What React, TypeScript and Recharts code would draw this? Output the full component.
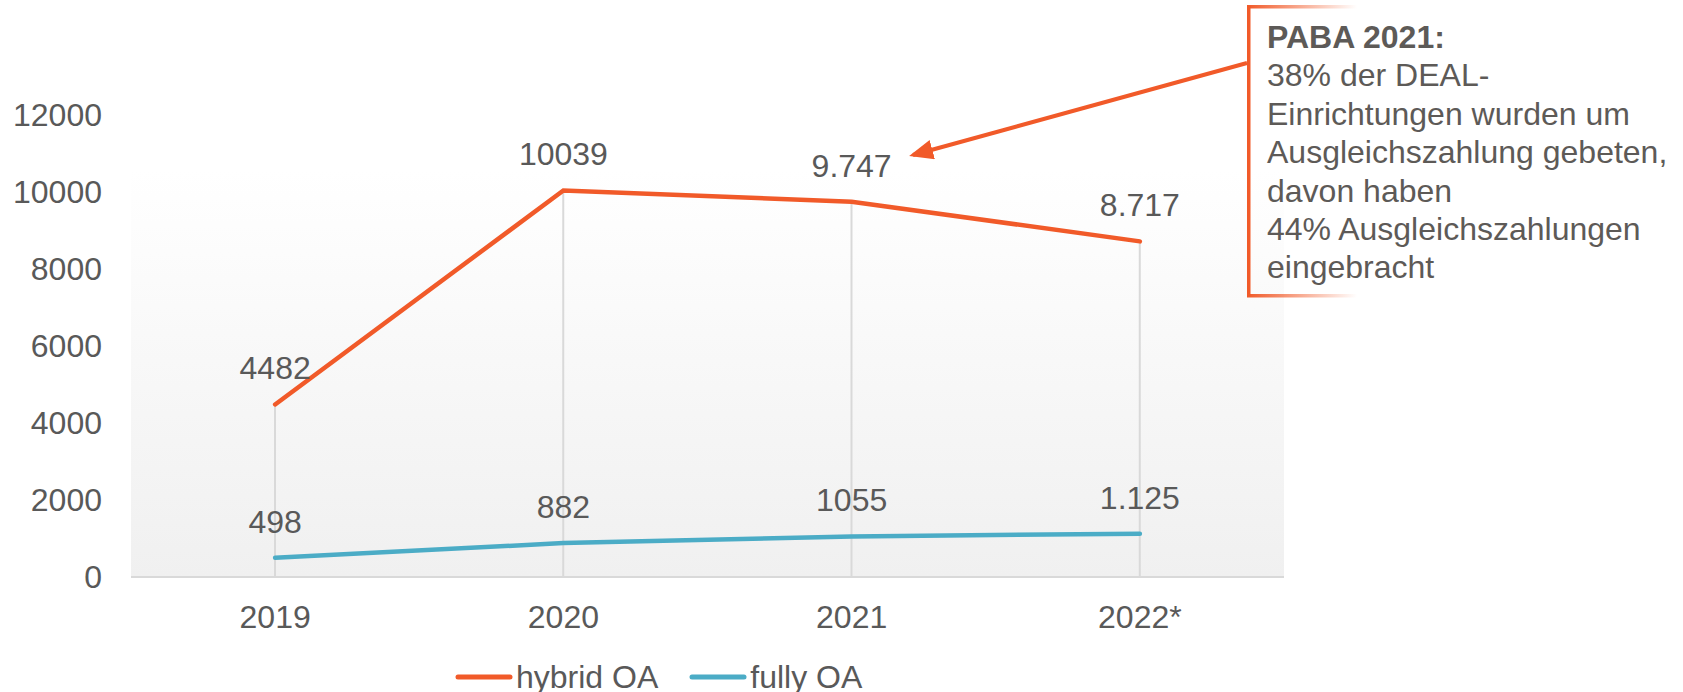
import React from 'react';
import { ComposedChart, Line, Bar, XAxis, YAxis, CartesianGrid, Legend, LabelList } from 'recharts';

const categories = ['2019', '2020', '2021', '2022*'];
const hybridOA = [4482, 10039, 9747, 8717];
const fullyOA = [498, 882, 1055, 1125];
const hybridLabels = ['4482', '10039', '9.747', '8.717'];
const fullyLabels = ['498', '882', '1055', '1.125'];
const yTicks = [0, 2000, 4000, 6000, 8000, 10000, 12000];

const ORANGE = '#F15A29';
const BLUE = '#4BACC6';
const TEXT = '#595959';
const FONT = '"Liberation Sans", Arial, sans-serif';

const data = categories.map((c, i) => ({
  year: c,
  hybrid: hybridOA[i],
  fully: fullyOA[i],
  hybridLabel: hybridLabels[i],
  fullyLabel: fullyLabels[i],
}));

const legendItems = [
  { name: 'hybrid OA', color: ORANGE },
  { name: 'fully OA', color: BLUE },
];

const renderLegend = () => (
  <div style={{ display: 'flex', alignItems: 'center', fontFamily: FONT, fontSize: 32, color: TEXT, lineHeight: '36px' }}>
    {legendItems.map((it, i) => (
      <div key={it.name} style={{ display: 'flex', alignItems: 'center', marginRight: i === 0 ? 31 : 0 }}>
        <svg width={58} height={10} style={{ marginRight: 3 }}>
          <line x1={3} y1={5} x2={55} y2={5} stroke={it.color} strokeWidth={5} strokeLinecap="round" />
        </svg>
        <span>{it.name}</span>
      </div>
    ))}
  </div>
);

export default function App() {
  return (
    <div style={{ position: 'absolute', left: 0, top: 0, width: 1683, height: 692, background: '#fff', fontFamily: FONT }}>
      <ComposedChart
        width={1683}
        height={692}
        data={data}
        margin={{ top: 115, right: 399, bottom: 19, left: 0 }}
      >
        <defs>
          <linearGradient id="plotBg" x1="0" y1="0" x2="0" y2="1">
            <stop offset="0%" stopColor="#ffffff" />
            <stop offset="12%" stopColor="#ffffff" />
            <stop offset="100%" stopColor="#f0f0f0" />
          </linearGradient>
        </defs>
        <CartesianGrid horizontal={false} vertical={false} fill="url(#plotBg)" />
        <XAxis
          dataKey="year"
          height={60}
          tickLine={false}
          axisLine={{ stroke: '#d9d9d9', strokeWidth: 2 }}
          tick={{ fill: TEXT, fontSize: 32, fontFamily: FONT }}
          tickMargin={22}
        />
        <YAxis
          width={131}
          domain={[0, 12000]}
          ticks={yTicks}
          axisLine={false}
          tickLine={false}
          tick={{ fill: TEXT, fontSize: 32, fontFamily: FONT }}
          tickMargin={23}
        />
        <Legend
          verticalAlign="bottom"
          content={renderLegend}
          wrapperStyle={{ left: 455, top: 659, width: 460 }}
        />
        <Bar dataKey="hybrid" barSize={2} fill="#d9d9d9" isAnimationActive={false} legendType="none" />
        <Line
          type="linear"
          dataKey="hybrid"
          name="hybrid OA"
          stroke={ORANGE}
          strokeWidth={4.5}
          strokeLinecap="round"
          dot={false}
          activeDot={false}
          isAnimationActive={false}
        >
          <LabelList dataKey="hybridLabel" position="top" offset={25} fill={TEXT} fontSize={32} fontFamily={FONT} />
        </Line>
        <Line
          type="linear"
          dataKey="fully"
          name="fully OA"
          stroke={BLUE}
          strokeWidth={4.5}
          strokeLinecap="round"
          dot={false}
          activeDot={false}
          isAnimationActive={false}
        >
          <LabelList dataKey="fullyLabel" position="top" offset={25} fill={TEXT} fontSize={32} fontFamily={FONT} />
        </Line>
      </ComposedChart>

      <svg width={1683} height={692} style={{ position: 'absolute', left: 0, top: 0, pointerEvents: 'none' }}>
        <defs>
          <marker id="arrowHead" markerWidth="6" markerHeight="5" refX="5" refY="2.5" orient="auto" markerUnits="strokeWidth">
            <polygon points="0,0 6,2.5 0,5" fill={ORANGE} />
          </marker>
          <linearGradient id="boxEdge" x1="0" y1="0" x2="1" y2="0">
            <stop offset="0%" stopColor={ORANGE} />
            <stop offset="100%" stopColor={ORANGE} stopOpacity={0} />
          </linearGradient>
        </defs>
        <line x1={1247} y1={63} x2={913} y2={155} stroke={ORANGE} strokeWidth={4} markerEnd="url(#arrowHead)" />
        <rect x={1247} y={6} width={3.5} height={290} fill={ORANGE} />
        <rect x={1247} y={5} width={110} height={3.5} fill="url(#boxEdge)" />
        <rect x={1247} y={294} width={110} height={3.5} fill="url(#boxEdge)" />
      </svg>

      <div
        style={{
          position: 'absolute',
          left: 1267,
          top: 18,
          fontFamily: FONT,
          fontSize: 32,
          lineHeight: '38.4px',
          color: '#5d5a57',
          whiteSpace: 'nowrap',
        }}
      >
        <div style={{ fontWeight: 'bold' }}>PABA 2021:</div>
        <div>38% der DEAL-</div>
        <div>Einrichtungen wurden um</div>
        <div>Ausgleichszahlung gebeten,</div>
        <div>davon haben</div>
        <div>44% Ausgleichszahlungen</div>
        <div>eingebracht</div>
      </div>
    </div>
  );
}
